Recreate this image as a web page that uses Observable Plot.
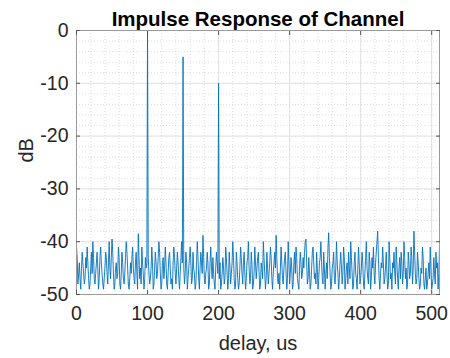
<!DOCTYPE html>
<html><head><meta charset="utf-8">
<script src="https://cdn.jsdelivr.net/npm/d3@7"></script>
<script src="https://cdn.jsdelivr.net/npm/@observablehq/plot@0.6"></script>
<style>html,body{margin:0;padding:0;background:#fff}svg{display:block}</style>
</head><body><div id="chart"></div>
<script>
const title = "Impulse Response of Channel";
const xLabel = "delay, us";
const yLabel = "dB";
const xTicks = [0, 100, 200, 300, 400, 500];
const yTicks = [0, -10, -20, -30, -40, -50];
const xMinor = d3.range(0, 512, 20);
const yMinor = d3.range(-50, 1, 2);
// response in dB, sample index = delay (us)
const responseDb = [
-41,-43,-48,-46,-44,-47,-49,-45,-42,-44,-46,-48,-47,-43,-45,-41,
-44,-47,-49,-48,-45,-42,-46,-40,-43,-47,-48,-46,-44,-42,-45,-49,
-47,-43,-41,-44,-46,-48,-49,-47,-45,-42,-43,-46,-48,-44,-40,-45,
-47,-43,-39.5,-42,-46,-49,-48,-45,-44,-47,-46,-41,-43,-48,-49,-46,
-42,-44,-47,-48,-46,-43,-40,-42,-45,-48,-49,-47,-44,-46,-43,-41,
-45,-47,-48,-44,-42,-46,-49,-38.5,-43,-47,-45,-48,-41,-44,-46,-49,
-47,-43,-45,-44,0,-43,-46,-48,-47,-45,-41,-44,-49,-48,-45,-42,
-44,-47,-46,-43,-40,-42,-46,-49,-48,-44,-43,-47,-45,-41,-44,-48,
-49,-46,-43,-42,-45,-48,-47,-49,-44,-41,-43,-46,-48,-45,-42,-44,
-47,-49,-46,-43,-40,-44,-5,-45,-48,-46,-42,-44,-49,-47,-45,-43,
-41,-44,-48,-47,-42,-45,-46,-49,-48,-44,-40,-43,-47,-49,-45,-42,
-44,-46,-38.8,-43,-47,-48,-46,-45,-42,-44,-49,-48,-44,-41,-45,-47,
-43,-46,-48,-49,-45,-42,-44,-46,-10,-47,-44,-49,-48,-46,-43,-45,
-48,-47,-41,-43,-46,-49,-47,-42,-45,-48,-46,-44,-40,-43,-47,-49,
-48,-42,-44,-47,-49,-48,-45,-41,-43,-46,-48,-44,-42,-46,-49,-47,
-44,-43,-40,-45,-48,-47,-42,-44,-49,-48,-46,-41,-44,-47,-45,-43,
-42,-46,-49,-48,-44,-45,-47,-40,-43,-46,-49,-47,-42,-45,-48,-46,
-44,-41,-43,-47,-49,-46,-44,-42,-45,-38.8,-43,-47,-48,-46,-49,-45,
-41,-44,-47,-48,-45,-43,-42,-46,-49,-47,-40,-44,-48,-46,-43,-45,
-49,-48,-44,-42,-46,-41,-43,-47,-48,-49,-45,-42,-44,-47,-46,-43,
-45,-42,-40,-39.5,-44,-48,-47,-43,-46,-49,-48,-45,-42,-41,-44,-47,
-46,-48,-42,-45,-49,-47,-44,-43,-40,-44,-47,-48,-42,-45,-49,-46,
-44,-47,-41,-38.3,-43,-46,-49,-48,-45,-44,-42,-47,-48,-45,-40,-44,
-46,-49,-47,-44,-42,-45,-48,-46,-41,-43,-49,-47,-45,-44,-48,-42,
-45,-47,-40,-43,-46,-49,-48,-44,-42,-46,-47,-49,-45,-41,-44,-48,
-47,-45,-42,-44,-48,-49,-46,-43,-40,-45,-47,-48,-42,-44,-49,-47,
-43,-45,-41,-46,-48,-44,-42,-40,-38,-43,-47,-49,-46,-44,-45,-41,
-44,-48,-47,-45,-42,-46,-49,-48,-40,-43,-47,-46,-49,-44,-45,-42,
-46,-48,-41,-44,-47,-49,-45,-43,-47,-42,-44,-48,-46,-40,-43,-47,
-45,-49,-48,-42,-44,-47,-46,-41,-43,-48,-45,-38,-42,-46,-48,-47,
-42,-44,-47,-49,-48,-45,-46,-41,-43,-48,-49,-47,-45,-49,-48,-46,
-44,-47,-41,-45,-49,-48,-47,-43,-46,-48,-42,-45,-44,-49,-46,-41
];
const data = responseDb.map((v, i) => ({delay: i, dB: v}));

const font = "'Liberation Sans', Arial, Helvetica, sans-serif";
const frameColor = "#9a9a9a";
const tickColor = "#555";
const fmt = d => String(d);

const chart = Plot.plot({
  width: 450,
  height: 358,
  marginLeft: 76,
  marginRight: 11,
  marginTop: 30,
  marginBottom: 64,
  style: {fontFamily: font, background: "#fff", overflow: "visible"},
  x: {domain: [0, 511], axis: null},
  y: {domain: [-50, 0], axis: null},
  marks: [
    Plot.ruleX(xMinor, {stroke: "#c8c8c8", strokeWidth: 0.6, strokeDasharray: "1,2"}),
    Plot.ruleY(yMinor, {stroke: "#c8c8c8", strokeWidth: 0.6, strokeDasharray: "1,2"}),
    Plot.ruleX(xTicks, {stroke: "#dcdcdc", strokeWidth: 0.8}),
    Plot.ruleY(yTicks, {stroke: "#dcdcdc", strokeWidth: 0.8}),
    Plot.line(data, {x: "delay", y: "dB", stroke: "#0072BD", strokeWidth: 0.9}),
    Plot.frame({stroke: frameColor, strokeWidth: 1}),
    Plot.axisX(xTicks, {anchor: "bottom", tickSize: -4, tickPadding: 16, fontSize: 19.5, tickFormat: fmt, stroke: tickColor, color: "#262626", label: null}),
    Plot.axisX(xTicks, {anchor: "top", tickSize: -4, tickFormat: () => "", stroke: tickColor, label: null}),
    Plot.axisY(yTicks, {anchor: "left", tickSize: -4, tickPadding: 12, fontSize: 19.5, tickFormat: fmt, stroke: tickColor, color: "#262626", label: null}),
    Plot.axisY(yTicks, {anchor: "right", tickSize: -4, tickFormat: () => "", stroke: tickColor, label: null}),
    Plot.text([title], {frameAnchor: "top", dy: -19, fontSize: 20.5, fontWeight: "bold", fill: "#000"}),
    Plot.text([xLabel], {frameAnchor: "bottom", dy: 55, fontSize: 20, fill: "#262626"}),
    Plot.text([yLabel], {frameAnchor: "left", dx: -50, rotate: -90, fontSize: 20, fill: "#262626"})
  ]
});
document.getElementById("chart").appendChild(chart);
</script>
</body></html>
